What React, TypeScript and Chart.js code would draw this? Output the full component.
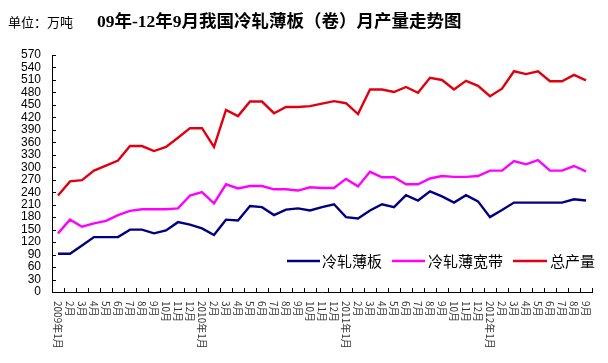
import React, { useEffect, useRef } from "react";
import { Chart, registerables } from "chart.js";

Chart.register(...registerables);

const categories: string[] = [
  "2009年1月", "2月", "3月", "4月", "5月", "6月", "7月", "8月", "9月", "10月", "11月", "12月",
  "2010年1月", "2月", "3月", "4月", "5月", "6月", "7月", "8月", "9月", "10月", "11月", "12月",
  "2011年1月", "2月", "3月", "4月", "5月", "6月", "7月", "8月", "9月", "10月", "11月", "12月",
  "2012年1月", "2月", "3月", "4月", "5月", "6月", "7月", "8月", "9月",
];

const thinSheet: number[] = [
  92, 92, 112, 132, 132, 132, 150, 150, 141, 148, 168, 162, 153, 137, 174,
  172, 207, 204, 185, 198, 201, 196, 204, 211, 180, 177, 196, 211, 204, 233,
  220, 242, 230, 215, 233, 218, 180, 197, 215, 215, 215, 215, 215, 223, 220,
];

const wideStrip: number[] = [
  141, 174, 157, 165, 171, 185, 195, 199, 199, 199, 201, 232, 240, 213, 259,
  249, 255, 255, 247, 247, 244, 252, 250, 250, 272, 254, 289, 276, 276, 259,
  259, 273, 279, 277, 277, 279, 292, 292, 315, 307, 317, 292, 292, 303, 290,
];

const totalOutput: number[] = [
  232, 266, 269, 292, 304, 316, 351, 351, 339, 349, 371, 394, 394, 349, 438,
  423, 458, 458, 430, 445, 445, 447, 453, 459, 454, 428, 487, 487, 481, 493,
  479, 515, 510, 487, 508, 496, 471, 489, 531, 524, 531, 507, 507, 522, 509,
];

const seriesNames: string[] = ["冷轧薄板", "冷轧薄宽带", "总产量"];
const seriesColors: string[] = ["#000080", "#FF00FF", "#E00010"];

const unitText = "单位：万吨";
const titleText = "09年-12年9月我国冷轧薄板（卷）月产量走势图";

const yMin = 0;
const yMax = 570;
const yStep = 30;

const decorPlugin = {
  id: "decor",
  afterDraw(chart: any) {
    const ctx: CanvasRenderingContext2D = chart.ctx;
    const xs = chart.scales.x;
    const ys = chart.scales.y;
    const area = chart.chartArea;
    ctx.save();

    // inward tick marks
    ctx.strokeStyle = "#000";
    ctx.lineWidth = 1;
    ctx.beginPath();
    for (const t of ys.ticks) {
      const py = Math.round(ys.getPixelForValue(t.value)) + 0.5;
      ctx.moveTo(area.left, py);
      ctx.lineTo(area.left + 4, py);
    }
    const n = categories.length;
    const step = xs.getPixelForValue(1) - xs.getPixelForValue(0);
    for (let i = 0; i <= n; i++) {
      const px = Math.round(xs.getPixelForValue(0) - step / 2 + i * step) + 0.5;
      ctx.moveTo(px, area.bottom);
      ctx.lineTo(px, area.bottom - 4);
    }
    ctx.stroke();

    // x labels rotated clockwise
    ctx.font = '10px "Noto Sans CJK SC"';
    ctx.fillStyle = "#333";
    ctx.textBaseline = "middle";
    ctx.textAlign = "left";
    categories.forEach((lab, i) => {
      const px = xs.getPixelForValue(i);
      ctx.save();
      ctx.translate(px, area.bottom + 9);
      ctx.rotate(Math.PI / 2);
      ctx.fillText(lab, 0, 0);
      ctx.restore();
    });

    // legend inside plot
    const legendY = 261;
    const legendItems = [
      { x1: 287, x2: 320, tx: 322 },
      { x1: 392, x2: 425, tx: 428 },
      { x1: 513, x2: 547, tx: 550 },
    ];
    ctx.font = '15px "Noto Sans CJK SC"';
    ctx.fillStyle = "#000";
    chart.data.datasets.forEach((ds: any, i: number) => {
      const it = legendItems[i];
      ctx.strokeStyle = ds.borderColor;
      ctx.lineWidth = 2.5;
      ctx.beginPath();
      ctx.moveTo(it.x1, legendY);
      ctx.lineTo(it.x2, legendY);
      ctx.stroke();
      ctx.fillText(ds.label, it.tx, legendY);
    });

    // title texts
    ctx.textBaseline = "middle";
    ctx.font = '13px "Noto Sans CJK SC"';
    ctx.fillText(unitText, 8, 22);
    ctx.font = 'bold 17.5px "Liberation Serif", "Noto Sans CJK SC"';
    ctx.fillText(titleText, 97, 22);

    ctx.restore();
  },
};

export default function App() {
  const canvasRef = useRef<HTMLCanvasElement | null>(null);

  useEffect(() => {
    document.body.style.margin = "0";
    const canvas = canvasRef.current;
    if (!canvas) return;
    const mk = (i: number, data: number[]) => ({
      label: seriesNames[i],
      data,
      borderColor: seriesColors[i],
      backgroundColor: seriesColors[i],
      borderWidth: 2.4,
      pointRadius: 0,
      tension: 0,
      fill: false,
    });
    const chart = new Chart(canvas, {
      type: "line",
      data: {
        labels: categories,
        datasets: [mk(0, thinSheet), mk(1, wideStrip), mk(2, totalOutput)],
      },
      plugins: [decorPlugin],
      options: {
        animation: false,
        responsive: false,
        maintainAspectRatio: false,
        layout: { padding: { left: 0, top: 55, right: 16, bottom: 0 } },
        plugins: {
          legend: { display: false },
          tooltip: { enabled: false },
          title: { display: false },
        },
        scales: {
          x: {
            type: "category",
            offset: true,
            grid: { display: true, drawOnChartArea: false, drawTicks: false, offset: true },
            border: { display: true, color: "#000", width: 1 },
            ticks: { display: false },
            afterFit: (scale: any) => {
              scale.height = 71;
            },
          },
          y: {
            min: yMin,
            max: yMax,
            grid: { display: true, drawOnChartArea: false, drawTicks: false },
            border: { display: true, color: "#000", width: 1 },
            ticks: {
              stepSize: yStep,
              autoSkip: false,
              padding: 11,
              color: "#000",
              font: { family: '"Liberation Sans", Arial, sans-serif', size: 12, lineHeight: 1 },
            },
            afterFit: (scale: any) => {
              scale.width = 52;
            },
          },
        },
      },
    } as any);
    return () => chart.destroy();
  }, []);

  return (
    <div style={{ position: "absolute", left: 0, top: 0, width: 608, height: 363, background: "#fff" }}>
      <canvas ref={canvasRef} width={608} height={363} style={{ display: "block" }} />
    </div>
  );
}
